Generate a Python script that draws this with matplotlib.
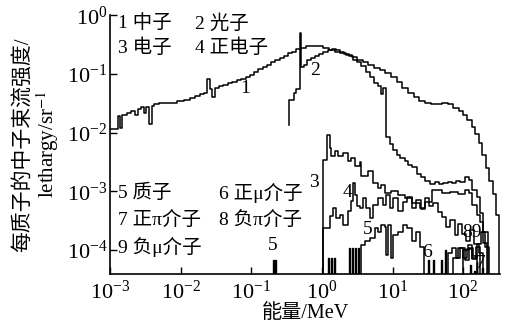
import numpy as np
import matplotlib
matplotlib.use('Agg')
import matplotlib.pyplot as plt

plt.rcParams['font.family'] = ['Liberation Serif', 'Noto Sans CJK SC']
plt.rcParams['mathtext.fontset'] = 'stix'
plt.rcParams['font.size'] = 14

# values, as log10(E/MeV) and log10(flux)
# 1 neutron
n_lg_e = [-3.00, -2.89, -2.86, -2.83, -2.76, -2.70, -2.65, -2.61, -2.56, -2.52, -2.49, -2.45, -2.41,
          -2.37, -2.30, -2.10, -2.05, -1.95, -1.87, -1.80, -1.73, -1.67, -1.62, -1.59, -1.56, -1.52,
          -1.46, -1.40, -1.33, -1.27, -1.20, -1.14, -1.08, -1.02, -0.96, -0.90, -0.84, -0.78, -0.72,
          -0.66, -0.60, -0.54, -0.48, -0.42, -0.36, -0.30, -0.22, -0.14, -0.06, 0.02, 0.10, 0.18,
          0.26, 0.34, 0.42, 0.50, 0.58, 0.66, 0.74, 0.82, 0.90, 0.98, 1.06, 1.14, 1.22, 1.30, 1.38,
          1.46, 1.54, 1.62, 1.70, 1.78, 1.86, 1.94, 2.00, 2.06, 2.12, 2.17, 2.22, 2.27, 2.32, 2.37,
          2.42, 2.46, 2.51]
n_lg_f = [-1.93, -1.72, -1.92, -1.70, -1.66, -1.63, -1.70, -1.60, -1.57, -1.66, -1.56, -1.85, -1.55,
          -1.52, -1.50, -1.49, -1.46, -1.44, -1.41, -1.38, -1.35, -1.32, -1.08, -1.25, -1.40, -1.24,
          -1.21, -1.19, -1.16, -1.14, -1.11, -1.08, -1.05, -1.01, -0.97, -0.92, -0.89, -0.84, -0.80,
          -0.77, -0.73, -0.69, -0.65, -0.62, -0.58, -0.55, -0.53, -0.52, -0.53, -0.56, -0.59, -0.62,
          -0.64, -0.67, -0.72, -0.76, -0.80, -0.85, -0.90, -0.94, -0.99, -1.05, -1.14, -1.24, -1.32,
          -1.40, -1.46, -1.50, -1.52, -1.51, -1.50, -1.52, -1.58, -1.63, -1.70, -1.79, -1.90, -2.03,
          -2.18, -2.38, -2.60, -2.82, -3.05, -3.40, -6]

# 2 photon
g_lg_e = [-0.46, -0.46, -0.43, -0.40, -0.36, -0.31, -0.29, -0.25, -0.21, -0.16, -0.10, -0.04, 0.02,
          0.08, 0.14, 0.20, 0.26, 0.32, 0.38, 0.44, 0.50, 0.56, 0.62, 0.68, 0.74, 0.80, 0.84, 0.87,
          0.91, 0.96, 1.01, 1.06, 1.11, 1.17, 1.22, 1.28, 1.34, 1.40, 1.46, 1.53, 1.60, 1.66, 1.72,
          1.78, 1.84, 1.90, 1.96, 2.02, 2.09, 2.13, 2.19, 2.24, 2.28, 2.34]
g_lg_f = [-1.87, -1.45, -1.45, -1.33, -1.25, -0.31, -0.88, -0.84, -0.77, -0.73, -0.70, -0.66, -0.62,
          -0.60, -0.58, -0.60, -0.62, -0.66, -0.70, -0.76, -0.80, -0.87, -0.97, -1.05, -1.16, -1.20,
          -1.34, -1.24, -2.08, -2.20, -2.30, -2.38, -2.44, -2.48, -2.55, -2.59, -2.70, -2.76, -2.82,
          -2.87, -2.84, -2.88, -2.85, -2.84, -2.86, -2.83, -2.84, -2.76, -2.80, -2.98, -3.10, -3.37,
          -3.88, -6]

# 3 electron
e_lg_e = [0.017, 0.017, 0.074, 0.116, 0.130, 0.187, 0.229, 0.300, 0.371, 0.414, 0.470, 0.541, 0.555,
          0.654, 0.725, 0.796, 0.839, 0.895, 0.980, 1.079, 1.178, 1.28, 1.39, 1.46, 1.56, 1.70, 1.82,
          1.93, 2.03, 2.08, 2.13, 2.20, 2.24, 2.28, 2.35]
e_lg_f = [-6, -2.47, -2.04, -2.27, -2.39, -2.32, -2.39, -2.35, -2.49, -2.44, -2.56, -2.50, -2.73,
          -2.66, -2.86, -2.95, -2.90, -3.03, -2.99, -3.07, -3.12, -3.20, -3.28, -3.18, -2.98, -3.03,
          -3.01, -3.04, -2.97, -3.03, -3.24, -3.40, -3.53, -3.70, -6]

# 4 positron
ep_lg_e = [0.02, 0.02, 0.06, 0.116, 0.159, 0.201, 0.258, 0.300, 0.371, 0.414, 0.442, 0.470, 0.50,
           0.541, 0.584, 0.626, 0.683, 0.725, 0.796, 0.867, 0.909, 0.966, 1.008, 1.079, 1.150, 1.21,
           1.27, 1.33, 1.40, 1.46, 1.52, 1.58, 1.64, 1.70, 1.76, 1.82, 1.88, 1.93, 1.98, 2.04, 2.10,
           2.16, 2.22, 2.28]
ep_lg_f = [-6, -3.63, -3.63, -3.42, -3.29, -3.46, -3.41, -3.58, -3.34, -3.17, -2.86, -3.07, -3.25,
           -3.29, -3.12, -3.29, -3.46, -3.24, -3.12, -3.24, -3.07, -3.29, -3.12, -3.34, -3.18, -3.10,
           -3.28, -3.15, -3.30, -3.12, -3.25, -3.20, -3.35, -3.44, -3.61, -3.49, -3.75, -3.55, -3.72,
           -3.85, -3.65, -3.90, -4.05, -6]

# 5 proton
p_lg_e = [0.555, 0.555, 0.612, 0.683, 0.754, 0.796, 0.839, 0.895, 0.909, 0.93, 0.98, 1.008, 1.079,
          1.150, 1.21, 1.27, 1.33, 1.39, 1.45]
p_lg_f = [-6, -3.92, -3.85, -3.80, -3.63, -3.70, -3.58, -3.60, -4.09, -3.58, -4.14, -3.75, -3.70,
          -3.58, -3.62, -3.85, -3.70, -3.95, -6]
p_spike_lg_e = [-0.69, -0.665, 0.088, 0.130, 0.173, 0.38, 0.43, 0.47, 0.51]
p_spike_lg_f = [-4.17, -4.17, -4.14, -4.14, -4.14, -3.97, -3.97, -3.97, -3.97]

# 6 mu+, 7 pi+, 8 pi-, 9 mu-
mup_lg_e = [1.78, 1.78, 1.84, 1.90, 1.96, 2.02, 2.08, 2.14, 2.20]
mup_lg_f = [-6, -4.05, -3.97, -4.14, -3.97, -4.17, -3.97, -4.10, -6]
mup_spike_lg_e = [1.50, 1.57, 1.69, 1.74]
mup_spike_lg_f = [-4.17, -4.17, -4.17, -4.00]
pip_spike_lg_e = [2.10, 2.15, 2.19, 2.23, 2.27]
pip_spike_lg_f = [-4.25, -4.35, -4.20, -4.40, -4.30]
pim_lg_e = [1.86, 1.86, 1.93, 2.00, 2.06, 2.12, 2.18, 2.24]
pim_lg_f = [-6, -4.14, -3.97, -4.14, -3.98, -4.15, -3.95, -6]
mum_lg_e = [2.00, 2.00, 2.07, 2.13, 2.20, 2.26, 2.31, 2.36]
mum_lg_f = [-6, -4.00, -3.92, -4.14, -3.90, -3.70, -3.95, -6]

legend_rows = [('1 中子', '2 光子'), ('3 电子', '4 正电子')]
legend_rows_low = [('5 质子', '6 正μ介子'), ('7 正π介子', '8 负π介子'), ('9 负μ介子', '')]

# curve number labels: (text, E, flux)
curve_labels = [('1', 0.081, 0.057), ('2', 0.80, 0.115), ('3', 0.78, 1.4e-3), ('4', 2.27, 9.6e-4),
                ('5', 4.4, 2.2e-4), ('5', 0.204, 1.2e-4), ('6', 31, 9.1e-5), ('89', 135, 2.0e-4),
                ('7', 178, 6.0e-5)]

fig = plt.figure(figsize=(5.14, 3.31), dpi=100)
ax = fig.add_axes([0.214, 0.172, 0.759, 0.782])


def draw_hist(lg_e, lg_f):
    ax.step(10.0 ** np.array(lg_e), 10.0 ** np.array(lg_f), where='post', color='k', lw=1.1)


def draw_spikes(lg_e, lg_f, w=0.012):
    for e, f in zip(lg_e, lg_f):
        xs = 10.0 ** np.array([e, e, e + w, e + w])
        ys = 10.0 ** np.array([-6, f, f, -6])
        ax.plot(xs, ys, color='k', lw=1.0)


for lg_e, lg_f in [(n_lg_e, n_lg_f), (g_lg_e, g_lg_f), (e_lg_e, e_lg_f), (ep_lg_e, ep_lg_f),
                   (p_lg_e, p_lg_f), (mup_lg_e, mup_lg_f), (pim_lg_e, pim_lg_f), (mum_lg_e, mum_lg_f)]:
    draw_hist(lg_e, lg_f)

draw_spikes(p_spike_lg_e, p_spike_lg_f)
draw_spikes(mup_spike_lg_e, mup_spike_lg_f)
draw_spikes(pip_spike_lg_e, pip_spike_lg_f)

ax.set_xscale('log')
ax.set_yscale('log')
ax.set_xlim(1e-3, 334)
ax.set_ylim(3.9e-5, 1)
ax.set_xticks([1e-3, 1e-2, 1e-1, 1e0, 1e1, 1e2])
ax.set_yticks([1e-4, 1e-3, 1e-2, 1e-1, 1e0])
ax.minorticks_off()
ax.tick_params(direction='in', length=5, width=1, labelsize=16)
ax.tick_params(axis='x', pad=5)
ax.tick_params(axis='y', pad=2)
for s in ['top', 'right']:
    ax.spines[s].set_visible(False)
for s in ['left', 'bottom']:
    ax.spines[s].set_linewidth(1.2)

ax.set_xlabel('能量/MeV', fontsize=14.5, labelpad=0)
ax.set_ylabel('每质子的中子束流强度/\nlethargy/sr$^{-1}$', fontsize=15, labelpad=4, linespacing=1.0)

for i, (a, b) in enumerate(legend_rows):
    y = 0.969 - i * 0.093
    ax.text(0.02, y, a, transform=ax.transAxes, va='center', fontsize=14)
    ax.text(0.218, y, b, transform=ax.transAxes, va='center', fontsize=14)
for i, (a, b) in enumerate(legend_rows_low):
    y = 0.313 - i * 0.105
    ax.text(0.02, y, a, transform=ax.transAxes, va='center', fontsize=14)
    ax.text(0.28, y, b, transform=ax.transAxes, va='center', fontsize=14)

for t, e, f in curve_labels:
    ax.text(e, f, t, ha='center', va='center', fontsize=14)

fig.savefig('out.png', dpi=100)
